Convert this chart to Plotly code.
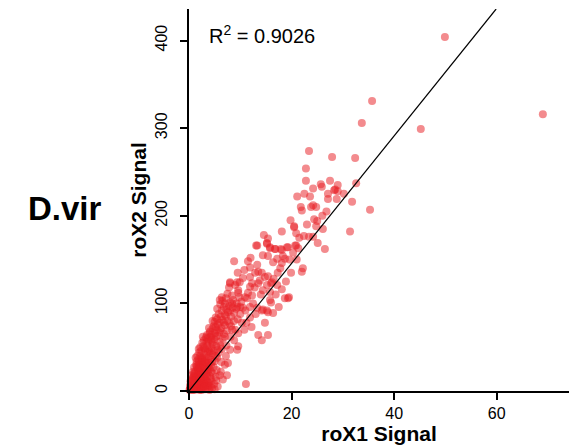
import plotly.graph_objects as go

# roX1 vs roX2 signal per gene bin (D. virilis)
signal_pairs = [
    # dense core near the origin
    (0.1, 1), (0.3, 3), (0.5, 2), (0.8, 4), (1.0, 1), (1.2, 5), (1.5, 2), (1.8, 4), (2.1, 1), (2.4, 3),
    (2.8, 5), (3.2, 2), (3.6, 4), (4.0, 1), (4.5, 3), (0.2, 6), (0.6, 8), (1.4, 7), (2.2, 6), (3.0, 8),
    (3.8, 6), (5.0, 2), (5.6, 5),
    (0.3, 11), (0.7, 13), (1.1, 10), (1.6, 12), (2.0, 9), (2.5, 13), (2.9, 10), (3.4, 12), (3.9, 9), (4.4, 11),
    (4.9, 8), (5.3, 12), (1.9, 14), (0.9, 16),
    (0.5, 18), (1.0, 20), (1.3, 16), (1.7, 19), (2.2, 17), (2.6, 21), (3.0, 16), (3.3, 19), (3.7, 22), (4.1, 17),
    (4.6, 20), (5.2, 16), (6.0, 18), (0.8, 22), (2.0, 23),
    (1.0, 27), (1.4, 30), (1.8, 25), (2.3, 28), (2.7, 31), (3.1, 26), (3.5, 29), (4.0, 25), (4.3, 30), (4.8, 27),
    (5.4, 24), (6.2, 22), (1.5, 34), (2.4, 33),
    (1.3, 38), (1.8, 36), (2.2, 40), (2.6, 37), (3.0, 42), (3.4, 35), (3.8, 39), (4.2, 36), (4.6, 41), (5.0, 34),
    (5.5, 38), (6.3, 33), (7.0, 30), (2.0, 44),
    (1.9, 48), (2.4, 46), (2.8, 51), (3.2, 47), (3.6, 52), (4.0, 45), (4.4, 49), (4.9, 46), (5.3, 51), (5.8, 44),
    (6.4, 48), (7.2, 40), (2.6, 55), (3.4, 56),
    (2.9, 58), (3.3, 61), (3.8, 57), (4.2, 62), (4.6, 55), (5.0, 59), (5.5, 63), (6.0, 56), (6.6, 60), (7.3, 52),
    (8.0, 47), (4.0, 66), (3.5, 64),
    (4.1, 68), (4.6, 71), (5.0, 66), (5.4, 70), (5.9, 67), (6.3, 72), (6.8, 65), (7.4, 69), (8.1, 62), (8.8, 58),
    (4.8, 74), (5.6, 76),
    (5.0, 79), (5.5, 82), (6.0, 78), (6.5, 81), (7.0, 75), (7.5, 80), (8.2, 74), (9.0, 70), (9.6, 66), (6.2, 85),
    (5.8, 88), (6.4, 92), (7.0, 87), (7.6, 90), (8.2, 85), (8.8, 89), (9.5, 82), (10.3, 78), (6.8, 96), (7.8, 97),
    (9.2, 94),
    (6.5, 103), (7.2, 106), (8.0, 101), (8.6, 104), (9.3, 100), (10.0, 96), (11.0, 92), (7.5, 111), (8.4, 109),
    (9.8, 107),
    (0.4, 5), (0.9, 6), (1.6, 3), (2.0, 7), (2.6, 4), (3.4, 6), (4.2, 5), (0.6, 14), (1.2, 12), (2.3, 11),
    (3.1, 14), (3.6, 10), (4.2, 14), (1.1, 18), (1.9, 21), (2.8, 18), (3.5, 17), (4.3, 22), (1.6, 26), (2.0, 30),
    (2.5, 24), (3.3, 32), (3.8, 27), (4.5, 33), (1.6, 40), (2.4, 38), (3.2, 38), (3.6, 44), (4.4, 43), (5.2, 40),
    (2.2, 50), (3.0, 49), (3.8, 48), (4.6, 53), (5.6, 47), (2.7, 62), (3.6, 60), (4.4, 58), (5.2, 62), (6.1, 52),
    (3.9, 72), (4.4, 64), (5.2, 73), (6.1, 69), (7.0, 62), (4.6, 80), (5.2, 84), (6.8, 78), (7.9, 77), (5.5, 94),
    (6.1, 99), (7.3, 93), (8.5, 95),
    (0.2, 2), (0.7, 1), (1.3, 3), (1.9, 2), (2.5, 1), (0.4, 9), (1.0, 8), (1.6, 9), (2.4, 8), (3.0, 5),
    (0.9, 12), (1.5, 15), (2.1, 15), (2.7, 14), (1.2, 22), (1.8, 24), (2.4, 20), (3.0, 23), (1.5, 28), (2.1, 27),
    (2.9, 29), (3.5, 24), (1.9, 33), (2.6, 35), (3.1, 33), (3.9, 32),
    # middle of the cloud
    (13.3, 166), (15.2, 169), (15.8, 164), (16.8, 162), (18.1, 161), (19.1, 164), (20.7, 166),
    (8.8, 148), (11.5, 148), (11.9, 141), (13.3, 144), (14.4, 155), (15.4, 154), (16.4, 147), (17.2, 151),
    (18.3, 154), (18.1, 146), (18.7, 151),
    (10.5, 129), (9.4, 124), (8.0, 123), (11.9, 130), (12.9, 135), (13.5, 136), (14.2, 135), (14.8, 130),
    (15.4, 131), (17.3, 135), (12.3, 123), (13.5, 123), (15.2, 121), (16.0, 123), (17.2, 121), (18.1, 116),
    (19.3, 106), (22.2, 140), (22.0, 136),
    (9.6, 112), (11.3, 106), (12.3, 109), (10.9, 107), (6.4, 107), (6.0, 104), (7.0, 100), (8.4, 100),
    (9.4, 96), (10.5, 95), (11.9, 96), (13.3, 95), (14.2, 92), (16.0, 101), (18.7, 106), (19.5, 107),
    (15.2, 92), (15.4, 90), (14.4, 115), (15.8, 113), (15.8, 104), (14.4, 93), (11.9, 119), (9.9, 124),
    (9.0, 121), (16.2, 124), (8.0, 92), (11.9, 84), (14.2, 58), (15.4, 64), (11.1, 8), (7.4, 18),
    (6.6, 13), (7.6, 32), (9.4, 47), (9.6, 51), (13.5, 64), (14.8, 78), (16.4, 89), (8.0, 124),
    (10.2, 102), (11.5, 112), (12.8, 118), (13.8, 126), (10.8, 138), (12.0, 152), (9.5, 135), (14.0, 110),
    (16.5, 128), (17.8, 140), (19.6, 150), (20.3, 158), (12.5, 100), (13.0, 88), (11.2, 78), (10.0, 88),
    (8.8, 80), (9.6, 115), (7.8, 118), (7.2, 85), (8.4, 70), (10.8, 70), (12.2, 73), (16.9, 110),
    (17.5, 96), (18.9, 125), (19.9, 135), (21.0, 150), (21.5, 175), (19.8, 195), (23.0, 190), (26.0, 200),
    (27.5, 240), (30.2, 225), (22.5, 225), (26.8, 205),
    # upper arm and outliers
    (49.9, 404), (69.0, 316), (45.2, 299), (35.7, 331), (33.7, 306),
    (23.4, 274), (27.9, 267), (32.4, 266), (22.8, 254), (22.8, 240), (24.2, 231), (21.1, 222), (23.6, 222),
    (21.8, 210), (22.0, 206), (23.8, 210), (24.2, 212), (24.8, 210),
    (25.7, 236), (25.9, 233), (27.1, 225), (28.5, 230), (29.0, 235), (29.0, 228), (28.3, 229),
    (27.1, 219), (28.8, 219), (32.6, 237), (31.8, 216), (35.3, 207),
    (24.4, 196), (25.0, 194), (24.8, 188), (26.1, 185), (31.4, 182),
    (22.4, 177), (23.4, 176), (24.2, 176), (25.1, 169), (26.5, 162),
    (20.5, 188), (20.5, 187), (20.9, 180), (18.1, 182), (14.6, 178), (15.4, 174), (13.1, 166),
    (15.2, 168), (15.8, 163), (16.8, 162), (17.9, 162), (19.3, 164), (20.9, 166), (21.3, 163),
]
roX1 = [p[0] for p in signal_pairs]
roX2 = [p[1] for p in signal_pairs]

fit_slope = 7.28          # regression through the origin
r_squared = 0.9026
x_ticks = [0, 20, 40, 60]
y_ticks = [0, 100, 200, 300, 400]
x_range = [0, 74.1]
y_range = [0, 436]

fit_x = [0, y_range[1] / fit_slope]
fit_y = [0, y_range[1]]

fig = go.Figure()
fig.add_trace(go.Scatter(
    x=roX1, y=roX2, mode="markers",
    marker=dict(size=8, color="rgba(232,32,38,0.52)", line=dict(width=0)),
    cliponaxis=False, hoverinfo="skip",
))
fig.add_trace(go.Scatter(
    x=fit_x, y=fit_y, mode="lines",
    line=dict(color="black", width=1.2),
    hoverinfo="skip",
))

family = "Liberation Sans, Arial, sans-serif"
axis_font = dict(family=family, size=16, color="black")
title_font = dict(family=family, size=21, color="black")

fig.update_layout(
    width=569, height=446,
    margin=dict(l=189, r=0, t=9, b=55),
    plot_bgcolor="white", paper_bgcolor="white",
    showlegend=False,
    xaxis=dict(
        range=x_range, tickvals=x_ticks, showgrid=False, zeroline=False,
        showline=True, linecolor="black", linewidth=2,
        ticks="outside", ticklen=7, tickwidth=1.5, tickcolor="black",
        tickfont=axis_font,
        title=dict(text="<b>roX1 Signal</b>", font=title_font, standoff=0),
    ),
    yaxis=dict(
        range=y_range, tickvals=y_ticks, showgrid=False, zeroline=False,
        showline=True, linecolor="black", linewidth=2,
        ticks="outside", ticklen=7, tickwidth=1.5, tickcolor="black",
        tickfont=axis_font, tickangle=-90, ticklabelstandoff=7,
        title=dict(text="<b>roX2 Signal</b>", font=title_font, standoff=0),
    ),
    annotations=[
        dict(text=f"R<sup>2</sup> = {r_squared}", xref="paper", yref="paper",
             x=0.047, y=0.932, xanchor="left", yanchor="middle", showarrow=False,
             font=dict(family=family, size=20, color="black")),
        dict(text="<b>D.vir</b>", xref="paper", yref="paper",
             x=-0.326, y=0.478, xanchor="center", yanchor="middle", showarrow=False,
             font=dict(family=family, size=33, color="black")),
    ],
)

fig.write_html("out.html")
